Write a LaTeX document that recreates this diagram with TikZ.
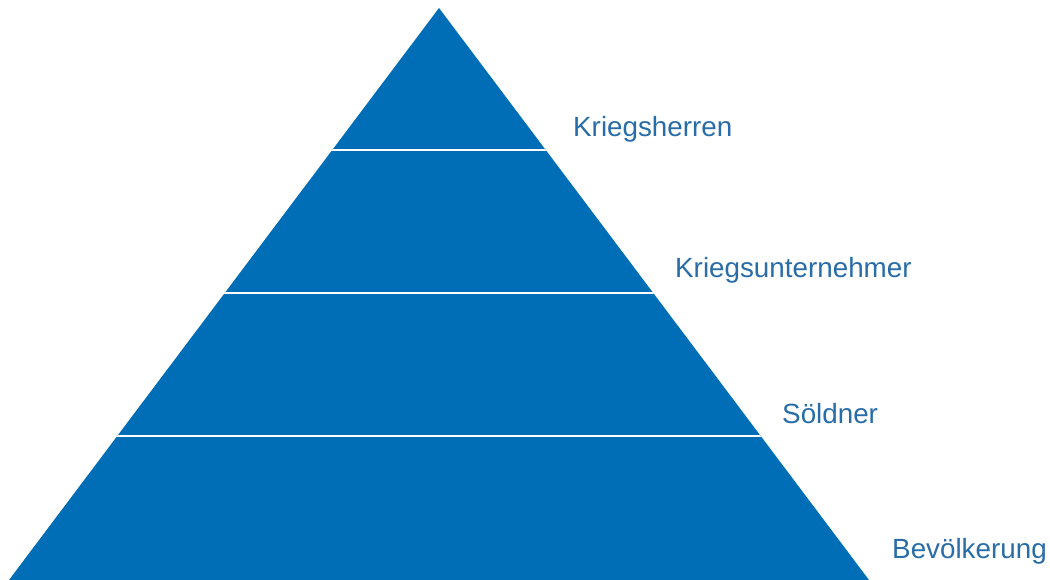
\documentclass[tikz,border=0pt]{standalone}
\usepackage{fontspec}
\setmainfont{Liberation Sans}
\usepackage{tikz}
\definecolor{pyrblue}{RGB}{0,110,183}
\definecolor{lblblue}{RGB}{40,108,168}

\begin{document}
\begin{tikzpicture}[x=1pt,y=-1pt,
    lbl/.style={anchor=base west,inner sep=0pt,text=lblblue,font=\fontsize{27.8}{32}\selectfont}]
        \useasboundingbox (0,0) rectangle (1050,580);
        \coordinate (top) at (439,8);
        \coordinate (bl) at (9,580);
        \coordinate (br) at (869,580);
        \fill[pyrblue] (top)--(br)--(bl)--cycle;
        \begin{scope}
            \clip (top)--(br)--(bl)--cycle;
            \foreach \y in {150,293,436}
                \draw[white,line width=2pt] (0,\y)--(1050,\y);
        \end{scope}
        \node[lbl] (herren) at (573,137) {Kriegsherren};
        \node[lbl] (unternehmer) at (675,278) {Kriegsunternehmer};
        \node[lbl] (soeldner) at (782,423) {Söldner};
        \node[lbl] (volk) at (892,558) {Bevölkerung};
    \end{tikzpicture}
\end{document}
